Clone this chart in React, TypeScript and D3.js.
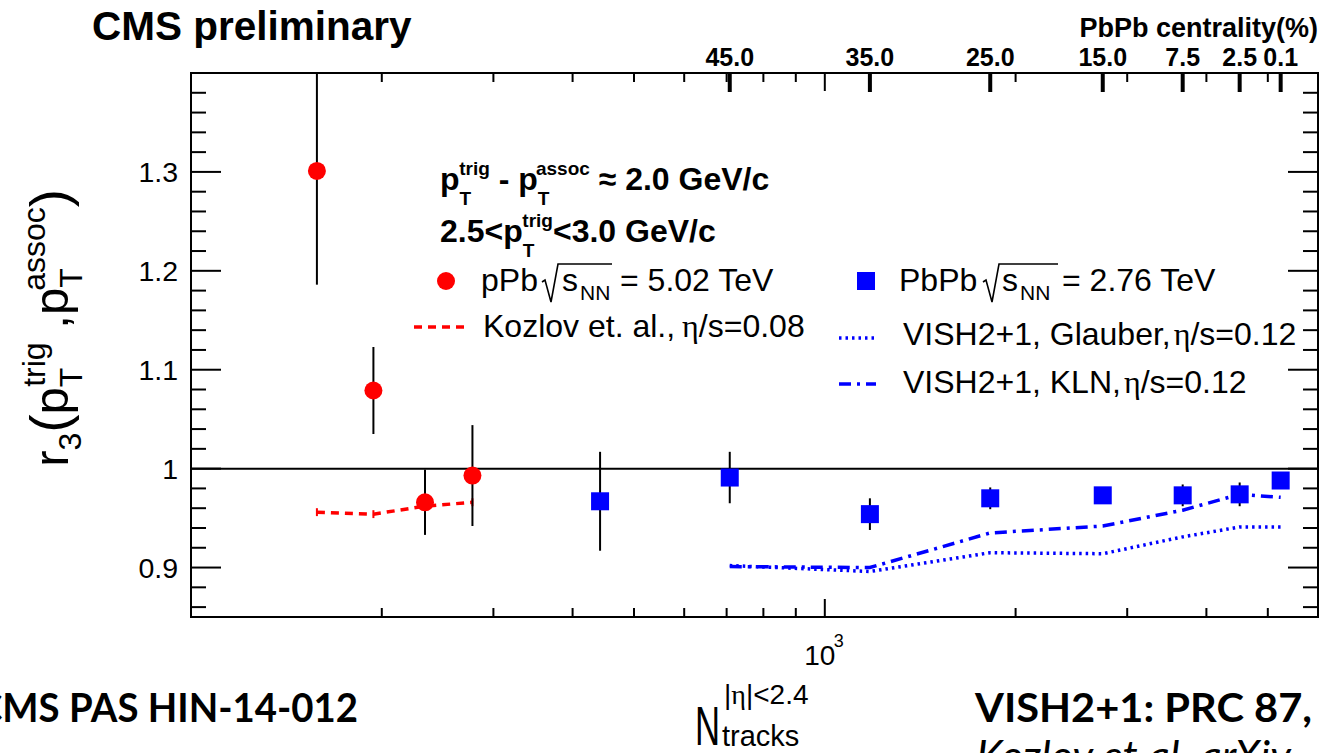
import React from 'react';
import * as d3 from 'd3';

// pPb 5.02 TeV data
const pPbN = [158, 194, 234, 278];
const pPbR3 = [1.301, 1.079, 0.966, 0.993];
const pPbErr = [0.115, 0.044, 0.033, 0.051];

// PbPb 2.76 TeV data
const PbPbN = [442, 708, 1178, 1824, 2745, 3670, 4514, 5239];
const PbPbR3 = [0.967, 0.991, 0.954, 0.970, 0.973, 0.973, 0.974, 0.988];
const PbPbErr = [0.05, 0.026, 0.016, 0.011, 0.007, 0.011, 0.012, 0.005];

// model curves
const kozlovN = [158, 194, 234, 278];
const kozlovR3 = [0.956, 0.954, 0.962, 0.966];
const vishN = [708, 1178, 1824, 2745, 3670, 4514, 5239];
const glauberR3 = [0.902, 0.896, 0.915, 0.914, 0.931, 0.941, 0.941];
const klnR3 = [0.901, 0.900, 0.935, 0.942, 0.958, 0.974, 0.971];

// axes
const centralityLabels = ['45.0', '35.0', '25.0', '15.0', '7.5', '2.5', '0.1'];
const centralityN = [708, 1178, 1824, 2745, 3670, 4514, 5239];
const yTickValues = [0.9, 1.0, 1.1, 1.2, 1.3];
const yTickLabels = ['0.9', '1', '1.1', '1.2', '1.3'];

const RED = '#ff0000';
const BLUE = '#0000ff';
const FONT = '"Liberation Sans", Arial, Helvetica, sans-serif';
const SERIF = '"Liberation Serif", "DejaVu Serif", serif';
const SLIDE = 'Lato, "Open Sans", sans-serif';

const frame = { left: 191, right: 1318, top: 73, bottom: 617 };

export default function App() {
  const x = d3.scaleLog().domain([100, 6000]).range([frame.left, frame.right]);
  const y = d3.scaleLinear().domain([0.85, 1.4]).range([frame.bottom, frame.top]);

  const xTicks = x.ticks().filter((t) => t > 100 && t < 6000);
  const yMinor = d3.range(43, 70).map((i) => ({ v: i * 0.02, major: i % 5 === 0 }));

  const line = d3.line<[number, number]>().x((d) => x(d[0])).y((d) => y(d[1]));
  const kozlovPath = line(kozlovN.map((n, i) => [n, kozlovR3[i]]));
  const glauberPath = line(vishN.map((n, i) => [n, glauberR3[i]]));
  const klnPath = line(vishN.map((n, i) => [n, klnR3[i]]));

  // sqrt sign with the bar over s_NN
  const radical = (x0: number, x1: number, base: number) =>
    `M${x0},${base - 9} L${x0 + 3},${base - 11} L${x0 + 9},${base + 11} L${x0 + 16},${base - 27} L${x1},${base - 27}`;

  return (
    <svg width={1322} height={753} style={{ position: 'absolute', left: 0, top: 0, background: '#fff' }}
         fontFamily={FONT}>
      <defs>
        <clipPath id="plotArea">
          <rect x={frame.left} y={frame.top} width={frame.right - frame.left} height={frame.bottom - frame.top} />
        </clipPath>
      </defs>

      {/* header texts */}
      <text x={92} y={40} fontSize={40.5} fontWeight="bold">CMS preliminary</text>
      <text x={1318} y={37} fontSize={27} fontWeight="bold" textAnchor="end">PbPb centrality(%)</text>

      {/* y ticks left and right */}
      {yMinor.map((t, i) => (
        <g key={'yt' + i} stroke="#000" strokeWidth={2}>
          <line x1={frame.left} x2={frame.left + (t.major ? 30 : 15)} y1={y(t.v)} y2={y(t.v)} />
          <line x1={frame.right} x2={frame.right - (t.major ? 30 : 15)} y1={y(t.v)} y2={y(t.v)} />
        </g>
      ))}
      {yTickValues.map((v, i) => (
        <text key={'yl' + i} x={178} y={y(v) + 10} fontSize={28.5} textAnchor="end">{yTickLabels[i]}</text>
      ))}

      {/* x ticks bottom and mirrored top */}
      {xTicks.map((t, i) => {
        const len = t === 1000 ? 18 : 9;
        return (
          <g key={'xt' + i} stroke="#000" strokeWidth={2}>
            <line x1={x(t)} x2={x(t)} y1={frame.bottom} y2={frame.bottom - len} />
            <line x1={x(t)} x2={x(t)} y1={frame.top} y2={frame.top + len} />
          </g>
        );
      })}
      <text x={x(1000) - 5} y={665} fontSize={28} textAnchor="middle">10</text>
      <text x={x(1000) + 9} y={647} fontSize={18}>3</text>

      {/* centrality axis on top */}
      {centralityN.map((n, i) => (
        <g key={'ct' + i}>
          <line x1={x(n)} x2={x(n)} y1={frame.top} y2={frame.top + 19} stroke="#000" strokeWidth={4} />
          <text x={x(n)} y={66} fontSize={25} fontWeight="bold" textAnchor="middle">{centralityLabels[i]}</text>
        </g>
      ))}

      {/* line at unity */}
      <line x1={frame.left} x2={frame.right} y1={y(1)} y2={y(1)} stroke="#000" strokeWidth={2} />

      <g clipPath="url(#plotArea)">
        {/* models */}
        <path d={kozlovPath || ''} fill="none" stroke={RED} strokeWidth={3.5} strokeDasharray="8,6" />
        {kozlovN.map((n, i) => (
          <line key={'kz' + i} x1={x(n)} x2={x(n)} y1={y(kozlovR3[i] + 0.004)} y2={y(kozlovR3[i] - 0.004)}
                stroke={RED} strokeWidth={2} />
        ))}
        <path d={glauberPath || ''} fill="none" stroke={BLUE} strokeWidth={3.5} strokeDasharray="2.5,4" />
        <path d={klnPath || ''} fill="none" stroke={BLUE} strokeWidth={3.5} strokeDasharray="12,6,3,6" />

        {/* error bars */}
        {pPbN.map((n, i) => (
          <line key={'pe' + i} x1={x(n)} x2={x(n)} y1={y(pPbR3[i] + pPbErr[i])} y2={y(pPbR3[i] - pPbErr[i])}
                stroke="#000" strokeWidth={2} />
        ))}
        {PbPbN.map((n, i) => (
          <line key={'be' + i} x1={x(n)} x2={x(n)} y1={y(PbPbR3[i] + PbPbErr[i])} y2={y(PbPbR3[i] - PbPbErr[i])}
                stroke="#000" strokeWidth={2} />
        ))}

        {/* markers */}
        {pPbN.map((n, i) => (
          <circle key={'pm' + i} cx={x(n)} cy={y(pPbR3[i])} r={9} fill={RED} />
        ))}
        {PbPbN.map((n, i) => (
          <rect key={'bm' + i} x={x(n) - 9} y={y(PbPbR3[i]) - 9} width={18} height={18} fill={BLUE} />
        ))}
      </g>

      {/* frame */}
      <rect x={frame.left} y={frame.top} width={frame.right - frame.left} height={frame.bottom - frame.top}
            fill="none" stroke="#000" strokeWidth={2} />

      {/* legend header */}
      <text x={440} y={190} fontSize={32} fontWeight="bold">
        p<tspan fontSize={19} dy={15}>T</tspan>
        <tspan fontSize={19} dx={-12} dy={-30}>trig</tspan>
        <tspan dy={15}>{' - p'}</tspan>
        <tspan fontSize={19} dy={15}>T</tspan>
        <tspan fontSize={19} dx={-12} dy={-30}>assoc</tspan>
        <tspan dy={15}>{' \u2248 '}</tspan>
        <tspan>2.0 GeV/c</tspan>
      </text>
      <text x={440} y={242} fontSize={32} fontWeight="bold">
        2.5&lt;p<tspan fontSize={19} dy={15}>T</tspan>
        <tspan fontSize={19} dx={-12} dy={-30}>trig</tspan>
        <tspan dy={15}>&lt;3.0 GeV/c</tspan>
      </text>

      {/* legend entries */}
      <circle cx={446} cy={281} r={9} fill={RED} />
      <text x={481} y={291} fontSize={32}>pPb</text>
      <path d={radical(542, 612, 291)} fill="none" stroke="#000" strokeWidth={1.6} />
      <text x={562} y={291} fontSize={32}>s</text>
      <text x={580} y={300} fontSize={21}>NN</text>
      <text x={620} y={291} fontSize={32}>= 5.02 TeV</text>

      <line x1={414} x2={468} y1={327} y2={327} stroke={RED} strokeWidth={3.5} strokeDasharray="8,6" />
      <text x={483} y={337} fontSize={32}>
        Kozlov et. al.,<tspan fontFamily={SERIF} dx={7}>{'\u03b7'}</tspan>/s=0.08
      </text>

      <rect x={857} y={272} width={18} height={18} fill={BLUE} />
      <text x={899} y={291} fontSize={32}>PbPb</text>
      <path d={radical(983, 1058, 291)} fill="none" stroke="#000" strokeWidth={1.6} />
      <text x={1002} y={291} fontSize={32}>s</text>
      <text x={1020} y={300} fontSize={21}>NN</text>
      <text x={1062} y={291} fontSize={32}>= 2.76 TeV</text>

      <line x1={839} x2={874} y1={338} y2={338} stroke={BLUE} strokeWidth={3.5} strokeDasharray="2.5,4" />
      <text x={903} y={345} fontSize={32}>
        VISH2+1, Glauber,<tspan fontFamily={SERIF} dx={3}>{'\u03b7'}</tspan>/s=0.12
      </text>
      <line x1={839} x2={876} y1={384} y2={384} stroke={BLUE} strokeWidth={3.5} strokeDasharray="12,6,3,6" />
      <text x={903} y={393} fontSize={32}>
        VISH2+1, KLN,<tspan fontFamily={SERIF} dx={3}>{'\u03b7'}</tspan>/s=0.12
      </text>

      {/* y axis title */}
      <g transform="translate(68,328) rotate(-90)">
        <text textAnchor="middle" fontSize={49}>
          r<tspan fontSize={32} dy={13}>3</tspan>
          <tspan dy={-13} fontSize={54}>(</tspan>
          <tspan>p</tspan>
          <tspan fontSize={32} dy={14}>T</tspan>
          <tspan fontSize={32} dx={-19} dy={-37}>trig</tspan>
          <tspan dy={23}>{' ,p'}</tspan>
          <tspan fontSize={32} dy={14}>T</tspan>
          <tspan fontSize={32} dx={-19} dy={-37}>assoc</tspan>
          <tspan dy={23} fontSize={54}>)</tspan>
        </text>
      </g>

      {/* x axis title */}
      <text transform="translate(695,745) scale(0.62,1)" fontSize={56}>N</text>
      <text x={724} y={704} fontSize={28}>|<tspan fontFamily={SERIF}>{'\u03b7'}</tspan>|&lt;2.4</text>
      <text x={722} y={746} fontSize={29}>tracks</text>

      {/* slide footers */}
      <text x={-23} y={722} fontSize={40} fontWeight="bold" fontFamily={SLIDE}
            textLength={381} lengthAdjust="spacingAndGlyphs">CMS PAS HIN-14-012</text>
      <text x={975} y={722} fontSize={40} fontWeight="bold" fontFamily={SLIDE}
            textLength={337} lengthAdjust="spacingAndGlyphs">VISH2+1: PRC 87,</text>
      <text x={976} y={771} fontSize={43} fontStyle="italic" fontFamily={SLIDE}>Kozlov et al. arXiv</text>
    </svg>
  );
}
